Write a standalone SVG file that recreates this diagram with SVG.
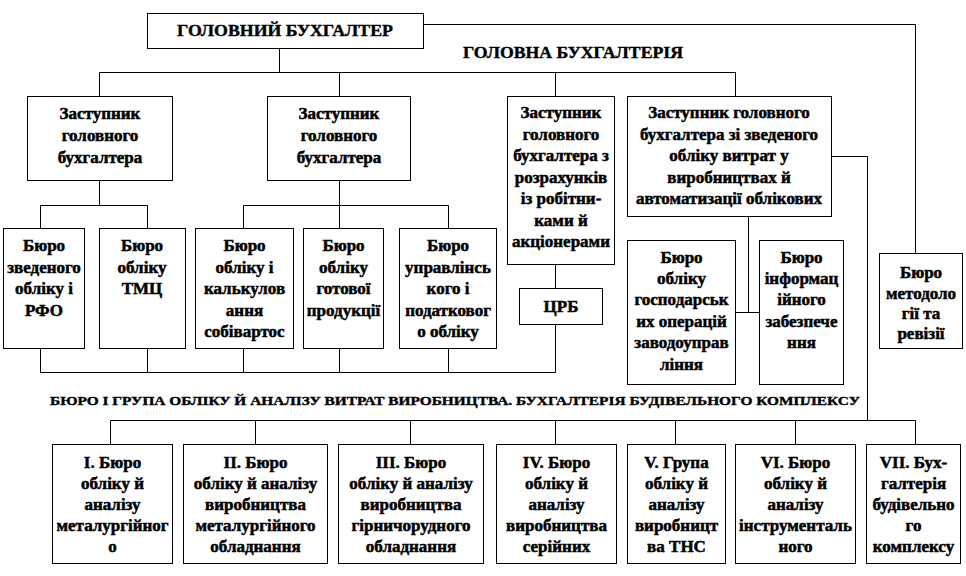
<svg xmlns="http://www.w3.org/2000/svg" width="966" height="576" viewBox="0 0 966 576">
<style>
.b{fill:#fff;stroke:#000;stroke-width:1}
.t{font-family:'Liberation Serif','Tinos','DejaVu Serif',serif;font-weight:bold;font-size:17px;fill:#000;stroke:#000;stroke-width:0.5;text-anchor:middle}
.h{font-family:'Liberation Serif','Tinos','DejaVu Serif',serif;font-weight:bold;fill:#000;stroke:#000;stroke-width:0.4}
#connectors path{fill:none;stroke:#000;stroke-width:1}
</style>
<rect width="966" height="576" fill="#fff"/>
<g id="connectors">
<path d="M279.5 48V72.5M99.5 72.5H735.5M99.5 72.5V96M339.5 72.5V96M555.5 72.5V96M735.5 72.5V96"/>
<path d="M423 24.5H915.5V253"/>
<path d="M99.5 180V205.5M40.5 205.5H147.5M40.5 205.5V228M147.5 205.5V228"/>
<path d="M339.5 180V228M243.5 205.5H448.5M243.5 205.5V228M448.5 205.5V228"/>
<path d="M40.5 348V372.5M147.5 348V372.5M243.5 348V372.5M339.5 348V372.5M448.5 348V372.5M40.5 372.5H555.5V324M555.5 264V288"/>
<path d="M748.5 216V312.5M735 312.5H759"/>
<path d="M831 156.5H867.5V420.5"/>
<path d="M110.5 420.5H915.5M110.5 420.5V444M255.5 420.5V444M410.5 420.5V444M555.5 420.5V444M675.5 420.5V444M795.5 420.5V444M915.5 420.5V444"/>
</g>
<text class="h" x="463" y="58" font-size="17" textLength="220" lengthAdjust="spacingAndGlyphs">ГОЛОВНА БУХГАЛТЕРІЯ</text>
<text class="h" x="50" y="405" font-size="13.5" stroke-width="0.3" textLength="810" lengthAdjust="spacingAndGlyphs">БЮРО І ГРУПА ОБЛІКУ Й АНАЛІЗУ ВИТРАТ ВИРОБНИЦТВА.  БУХГАЛТЕРІЯ БУДІВЕЛЬНОГО КОМПЛЕКСУ</text>
<g id="chief">
<rect class="b" x="147.5" y="13.5" width="276" height="35"/>
<text class="h" x="285" y="36" font-size="17" text-anchor="middle" textLength="216" lengthAdjust="spacingAndGlyphs">ГОЛОВНИЙ БУХГАЛТЕР</text>
</g>
<g id="dep1">
<rect class="b" x="27.5" y="96.5" width="145" height="84"/>
<text class="t"><tspan x="100" y="119">Заступник</tspan><tspan x="100" y="141">головного</tspan><tspan x="100" y="163">бухгалтера</tspan></text>
</g>
<g id="dep2">
<rect class="b" x="267.5" y="96.5" width="143" height="84"/>
<text class="t"><tspan x="339" y="119">Заступник</tspan><tspan x="339" y="141">головного</tspan><tspan x="339" y="163">бухгалтера</tspan></text>
</g>
<g id="dep3">
<rect class="b" x="507.5" y="96.5" width="107" height="168"/>
<text class="t"><tspan x="561" y="118">Заступник</tspan><tspan x="561" y="139.5">головного</tspan><tspan x="561" y="161">бухгалтера з</tspan><tspan x="561" y="182.5">розрахунків</tspan><tspan x="561" y="204">із робітни-</tspan><tspan x="561" y="225.5">ками й</tspan><tspan x="561" y="247">акціонерами</tspan></text>
</g>
<g id="dep4">
<rect class="b" x="627.5" y="96.5" width="204" height="120"/>
<text class="t"><tspan x="729" y="118">Заступник головного</tspan><tspan x="729" y="139.5">бухгалтера зі зведеного</tspan><tspan x="729" y="161">обліку витрат у</tspan><tspan x="729" y="182.5">виробництвах й</tspan><tspan x="729" y="204">автоматизації облікових</tspan></text>
</g>
<g id="b-rfo">
<rect class="b" x="3.5" y="228.5" width="81" height="120"/>
<text class="t"><tspan x="44" y="251">Бюро</tspan><tspan x="44" y="272.5">зведеного</tspan><tspan x="44" y="294">обліку і</tspan><tspan x="44" y="315.5">РФО</tspan></text>
</g>
<g id="b-tmc">
<rect class="b" x="99.5" y="228.5" width="86" height="120"/>
<text class="t"><tspan x="142" y="251">Бюро</tspan><tspan x="142" y="272.5">обліку</tspan><tspan x="142" y="294">ТМЦ</tspan></text>
</g>
<g id="b-calc">
<rect class="b" x="195.5" y="228.5" width="98" height="120"/>
<text class="t"><tspan x="244.5" y="251">Бюро</tspan><tspan x="244.5" y="272.5">обліку і</tspan><tspan x="244.5" y="294">калькулов</tspan><tspan x="244.5" y="315.5">ання</tspan><tspan x="244.5" y="337">собівартос</tspan></text>
</g>
<g id="b-prod">
<rect class="b" x="303.5" y="228.5" width="80" height="120"/>
<text class="t"><tspan x="343.5" y="251">Бюро</tspan><tspan x="343.5" y="272.5">обліку</tspan><tspan x="343.5" y="294">готової</tspan><tspan x="343.5" y="315.5">продукції</tspan></text>
</g>
<g id="b-tax">
<rect class="b" x="399.5" y="228.5" width="97" height="120"/>
<text class="t"><tspan x="448" y="251">Бюро</tspan><tspan x="448" y="272.5">управлінсь</tspan><tspan x="448" y="294">кого і</tspan><tspan x="448" y="315.5">податковог</tspan><tspan x="448" y="337">о обліку</tspan></text>
</g>
<g id="crb">
<rect class="b" x="519.5" y="288.5" width="83" height="36"/>
<text class="t" x="561" y="312">ЦРБ</text>
</g>
<g id="b-ops">
<rect class="b" x="627.5" y="240.5" width="108" height="144"/>
<text class="t"><tspan x="681.5" y="263">Бюро</tspan><tspan x="681.5" y="284">обліку</tspan><tspan x="681.5" y="305">господарськ</tspan><tspan x="681.5" y="326.5">их операцій</tspan><tspan x="681.5" y="348">заводоуправ</tspan><tspan x="681.5" y="369.5">ління</tspan></text>
</g>
<g id="b-info">
<rect class="b" x="759.5" y="240.5" width="84" height="144"/>
<text class="t"><tspan x="801.5" y="263">Бюро</tspan><tspan x="801.5" y="284">інформац</tspan><tspan x="801.5" y="305">ійного</tspan><tspan x="801.5" y="326.5">забезпече</tspan><tspan x="801.5" y="348">ння</tspan></text>
</g>
<g id="b-method">
<rect class="b" x="879.5" y="253.5" width="83" height="95"/>
<text class="t"><tspan x="921" y="278">Бюро</tspan><tspan x="921" y="299">методоло</tspan><tspan x="921" y="319">гії та</tspan><tspan x="921" y="339">ревізії</tspan></text>
</g>
<g id="u1">
<rect class="b" x="52.5" y="444.5" width="120" height="119"/>
<text class="t"><tspan x="112.5" y="468">І. Бюро</tspan><tspan x="112.5" y="489">обліку й</tspan><tspan x="112.5" y="510">аналізу</tspan><tspan x="112.5" y="531">металургійног</tspan><tspan x="112.5" y="552">о</tspan></text>
</g>
<g id="u2">
<rect class="b" x="183.5" y="444.5" width="144" height="119"/>
<text class="t"><tspan x="255.5" y="468">ІІ. Бюро</tspan><tspan x="255.5" y="489">обліку й аналізу</tspan><tspan x="255.5" y="510">виробництва</tspan><tspan x="255.5" y="531">металургійного</tspan><tspan x="255.5" y="552">обладнання</tspan></text>
</g>
<g id="u3">
<rect class="b" x="338.5" y="444.5" width="145" height="119"/>
<text class="t"><tspan x="411" y="468">ІІІ. Бюро</tspan><tspan x="411" y="489">обліку й аналізу</tspan><tspan x="411" y="510">виробництва</tspan><tspan x="411" y="531">гірничорудного</tspan><tspan x="411" y="552">обладнання</tspan></text>
</g>
<g id="u4">
<rect class="b" x="496.5" y="444.5" width="120" height="119"/>
<text class="t"><tspan x="556.5" y="468">IV. Бюро</tspan><tspan x="556.5" y="489">обліку й</tspan><tspan x="556.5" y="510">аналізу</tspan><tspan x="556.5" y="531">виробництва</tspan><tspan x="556.5" y="552">серійних</tspan></text>
</g>
<g id="u5">
<rect class="b" x="627.5" y="444.5" width="98" height="119"/>
<text class="t"><tspan x="676.5" y="468">V. Група</tspan><tspan x="676.5" y="489">обліку й</tspan><tspan x="676.5" y="510">аналізу</tspan><tspan x="676.5" y="531">виробницт</tspan><tspan x="676.5" y="552">ва ТНС</tspan></text>
</g>
<g id="u6">
<rect class="b" x="735.5" y="444.5" width="120" height="119"/>
<text class="t"><tspan x="795.5" y="468">VI. Бюро</tspan><tspan x="795.5" y="489">обліку й</tspan><tspan x="795.5" y="510">аналізу</tspan><tspan x="795.5" y="531">інструменталь</tspan><tspan x="795.5" y="552">ного</tspan></text>
</g>
<g id="u7">
<rect class="b" x="866.5" y="444.5" width="94" height="119"/>
<text class="t"><tspan x="913.5" y="468">VII. Бух-</tspan><tspan x="913.5" y="489">галтерія</tspan><tspan x="913.5" y="510">будівельно</tspan><tspan x="913.5" y="531">го</tspan><tspan x="913.5" y="552">комплексу</tspan></text>
</g>
</svg>
